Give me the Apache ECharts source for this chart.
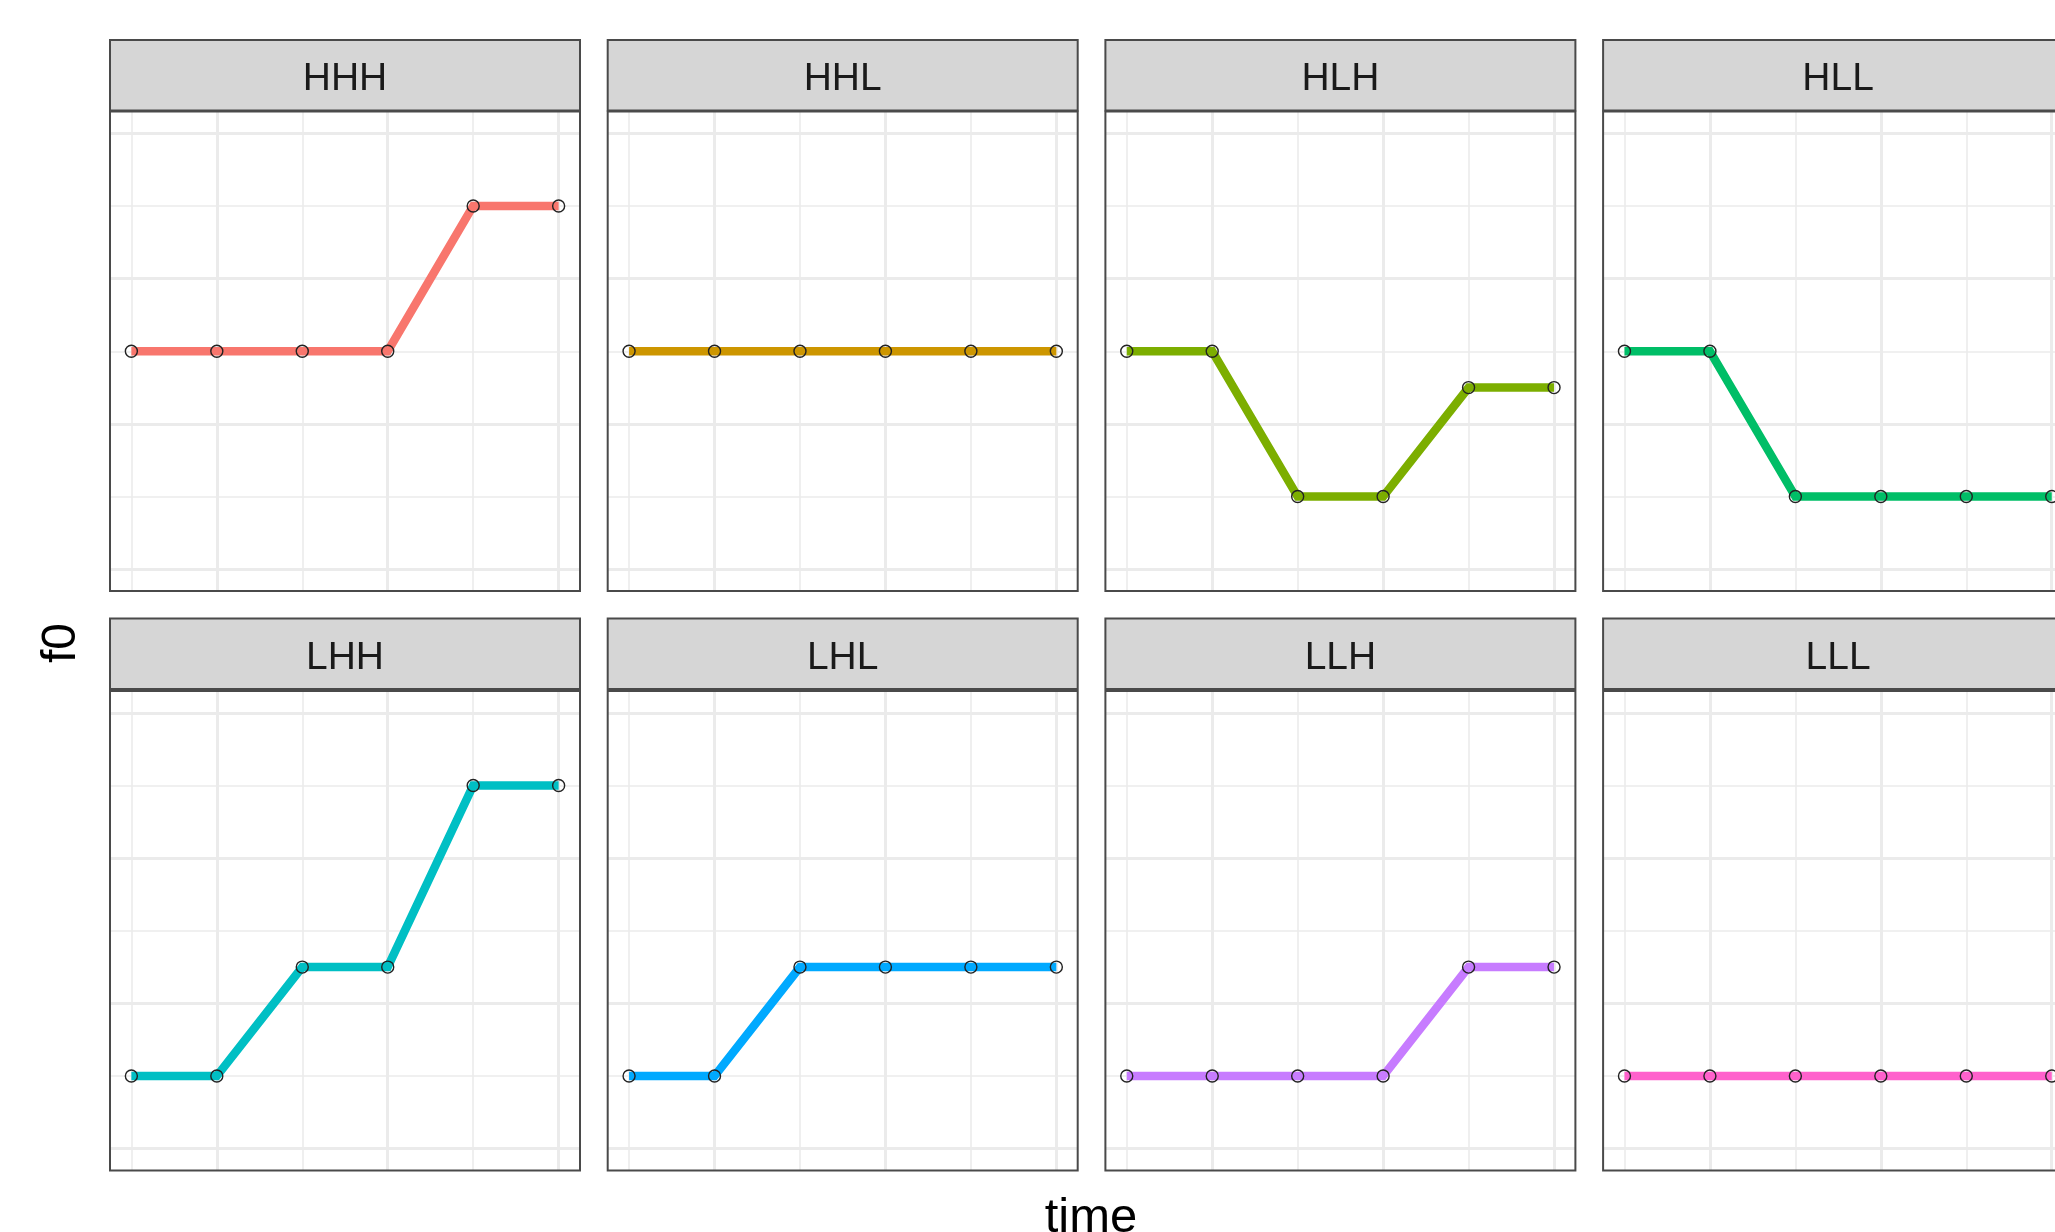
<!DOCTYPE html>
<html>
<head>
<meta charset="utf-8">
<title>f0 contours by tone pattern</title>
<script src="https://cdn.jsdelivr.net/npm/echarts@6/dist/echarts.min.js"></script>
<style>
  html, body { margin: 0; padding: 0; background: #ffffff; }
  #chart { width: 2055px; height: 1232px; }
</style>
</head>
<body>
<div id="chart"></div>
<script>
// Tone patterns, one facet each
const patterns = ['HHH', 'HHL', 'HLH', 'HLL', 'LHH', 'LHL', 'LLH', 'LLL'];
// Time steps along the contour
const times = [1, 2, 3, 4, 5, 6];
// f0 level at each time step
const f0HHH = [1.5, 1.5, 1.5, 1.5, 2.5, 2.5];
const f0HHL = [1.5, 1.5, 1.5, 1.5, 1.5, 1.5];
const f0HLH = [1.5, 1.5, 0.5, 0.5, 1.25, 1.25];
const f0HLL = [1.5, 1.5, 0.5, 0.5, 0.5, 0.5];
const f0LHH = [0.5, 0.5, 1.25, 1.25, 2.5, 2.5];
const f0LHL = [0.5, 0.5, 1.25, 1.25, 1.25, 1.25];
const f0LLH = [0.5, 0.5, 0.5, 0.5, 1.25, 1.25];
const f0LLL = [0.5, 0.5, 0.5, 0.5, 0.5, 0.5];
const f0Series = [f0HHH, f0HHL, f0HLH, f0HLL, f0LHH, f0LHL, f0LLH, f0LLL];
// Grid breaks
const yMajor = [0, 1, 2, 3];
const yMinor = [0.5, 1.5, 2.5];
const xMajor = [2, 4, 6];
const xMinor = [1, 3, 5];
// Axis limits
const yLimits = [-0.15, 3.15];
const xLimits = [0.75, 6.25];

const palette = ['#F8766D', '#CD9600', '#7CAE00', '#00BE67', '#00BFC4', '#00A9FF', '#C77CFF', '#FF61CC'];

// Facet layout (pixels); the fourth column runs past the right edge
const panelW = 470;
const colPitch = 497.7;
const firstLeft = 110;
const stripTops = [40, 618.5];
const stripH = 70.5;
const bodyTops = [111.5, 691];
const bodyH = 479.5;

const FONT = '"Liberation Sans", Arial, Helvetica, sans-serif';
const gridColor = '#EBEBEB';
const borderColor = '#4A4A4A';

const grids = [], xAxes = [], yAxes = [], series = [], graphics = [];

patterns.forEach(function (name, i) {
  const row = Math.floor(i / 4);
  const col = i % 4;
  const left = firstLeft + col * colPitch;

  grids.push({
    left: left, top: bodyTops[row], width: panelW, height: bodyH,
    show: true, backgroundColor: 'transparent',
    borderColor: borderColor, borderWidth: 2, z: 4,
    outerBoundsMode: 'none',
    containLabel: false
  });
  xAxes.push({ gridIndex: i, type: 'value', min: xLimits[0], max: xLimits[1], show: false });
  yAxes.push({ gridIndex: i, type: 'value', min: yLimits[0], max: yLimits[1], show: false });

  const gridLines = [];
  yMajor.forEach(v => gridLines.push({ yAxis: v, lineStyle: { width: 3, color: gridColor, type: 'solid' } }));
  yMinor.forEach(v => gridLines.push({ yAxis: v, lineStyle: { width: 1.6, color: gridColor, type: 'solid' } }));
  xMajor.forEach(v => gridLines.push({ xAxis: v, lineStyle: { width: 3, color: gridColor, type: 'solid' } }));
  xMinor.forEach(v => gridLines.push({ xAxis: v, lineStyle: { width: 1.6, color: gridColor, type: 'solid' } }));

  series.push({
    name: name,
    type: 'line',
    xAxisIndex: i,
    yAxisIndex: i,
    data: times.map((t, k) => [t, f0Series[i][k]]),
    z: 3,
    clip: false,
    animation: false,
    symbol: 'circle',
    symbolSize: 12,
    showSymbol: true,
    lineStyle: { color: palette[i], width: 8.5, cap: 'butt', join: 'miter' },
    itemStyle: { color: 'rgba(0,0,0,0)', borderColor: '#222222', borderWidth: 1.4 },
    emphasis: { disabled: true },
    markLine: {
      silent: true,
      symbol: 'none',
      z: 1,
      animation: false,
      label: { show: false },
      emphasis: { disabled: true },
      data: gridLines
    }
  });

  // Facet strip
  graphics.push({
    type: 'rect',
    z: 10,
    shape: { x: left, y: stripTops[row], width: panelW, height: stripH },
    style: { fill: '#D6D6D6', stroke: borderColor, lineWidth: 2 },
    silent: true
  });
  graphics.push({
    type: 'text',
    z: 11,
    x: left + panelW / 2,
    y: stripTops[row] + stripH / 2 + 4,
    style: {
      text: name, fill: '#1A1A1A', fontSize: 39, fontFamily: FONT,
      align: 'center', verticalAlign: 'middle'
    },
    silent: true
  });
});

// Axis titles
graphics.push({
  type: 'text', z: 11, x: 1091, y: 1218,
  style: { text: 'time', fill: '#000000', fontSize: 49, fontFamily: FONT, align: 'center', verticalAlign: 'middle' },
  silent: true
});
graphics.push({
  type: 'text', z: 11, x: 62, y: 643, rotation: Math.PI / 2,
  style: { text: 'f0', fill: '#000000', fontSize: 48, fontFamily: FONT, align: 'center', verticalAlign: 'middle' },
  silent: true
});

const chart = echarts.init(document.getElementById('chart'), null, { renderer: 'canvas' });
chart.setOption({
  backgroundColor: '#ffffff',
  animation: false,
  grid: grids,
  xAxis: xAxes,
  yAxis: yAxes,
  series: series,
  graphic: { elements: graphics }
});
</script>
</body>
</html>
